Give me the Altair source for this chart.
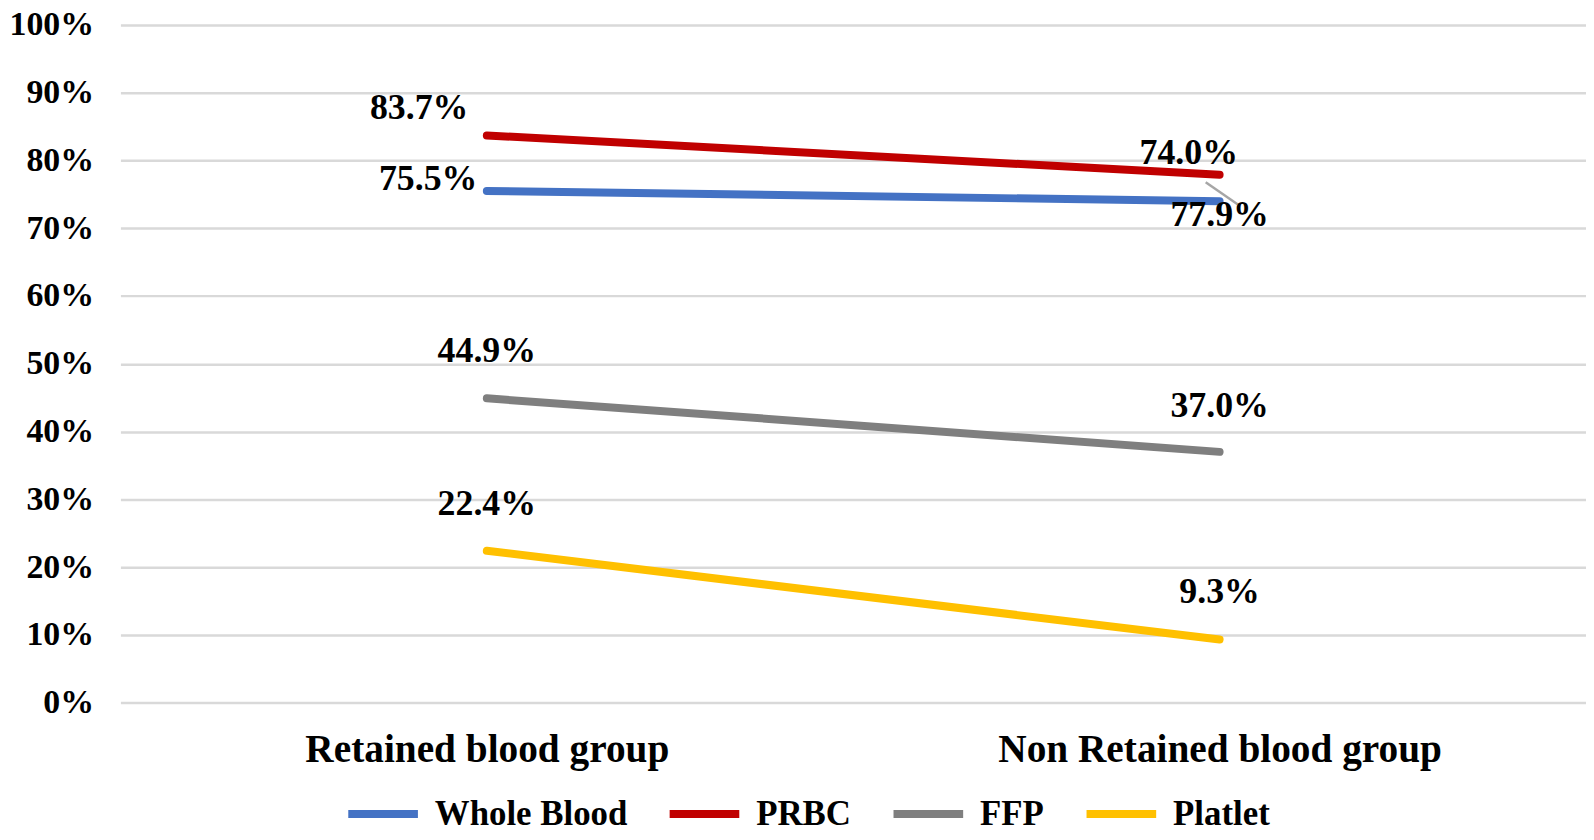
import altair as alt
import pandas as pd

categories = ["Retained blood group", "Non Retained blood group"]
series = ["Whole Blood", "PRBC", "FFP", "Platlet"]
whole_blood = [75.5, 74.0]
prbc = [83.7, 77.9]
ffp = [44.9, 37.0]
platlet = [22.4, 9.3]
colors = ["#4472C4", "#C00000", "#7F7F7F", "#FFC000"]

values = {"Whole Blood": whole_blood, "PRBC": prbc, "FFP": ffp, "Platlet": platlet}
rows = []
for si, s in enumerate(series):
    for ci, c in enumerate(categories):
        rows.append({"series": s, "category": c, "value": values[s][ci], "order": si})
df = pd.DataFrame(rows)

# label placement offsets (pixels) per (series, category index) -- styling only
label_offsets = {
    ("Whole Blood", 0): (-59, -12), ("Whole Blood", 1): (-31, -48),
    ("PRBC", 0): (-68, -28), ("PRBC", 1): (0, 41),
    ("FFP", 0): (0, -48), ("FFP", 1): (0, -46),
    ("Platlet", 0): (0, -47), ("Platlet", 1): (0, -48),
}

FONT = "Liberation Serif"

x = alt.X("category:N", sort=categories, title=None,
          scale=alt.Scale(type="point", padding=0.5),
          axis=alt.Axis(labelFontSize=39.5, labelFont=FONT, labelFontWeight="bold",
                        labelColor="black", labelPadding=28, labelAngle=0,
                        labelLimit=800, domain=False, ticks=False, grid=False))
y = alt.Y("value:Q", title=None,
          scale=alt.Scale(domain=[0, 100], nice=False),
          axis=alt.Axis(values=list(range(0, 101, 10)), labelExpr="datum.value + '%'",
                        labelFontSize=34, labelFont=FONT, labelFontWeight="bold",
                        labelColor="black", labelPadding=27, domain=False, ticks=False,
                        grid=True, gridColor="#d9d9d9", gridWidth=2.5))

color = alt.Color("series:N", sort=series,
                  scale=alt.Scale(domain=series, range=colors),
                  legend=alt.Legend(title=None, orient="none", direction="horizontal",
                                    legendX=225, legendY=754,
                                    symbolType="stroke", symbolSize=4900,
                                    symbolStrokeWidth=8, labelFontSize=35,
                                    labelFont=FONT, labelFontWeight="bold",
                                    labelColor="black", labelOffset=13,
                                    columnPadding=26, labelLimit=400))

lines = alt.Chart(df).mark_line(strokeWidth=8, strokeCap="round").encode(
    x=x, y=y, color=color, order=alt.Order("order:Q"), detail="series:N"
)

leader = alt.Chart(df).transform_filter(
    (alt.datum.series == "Whole Blood") & (alt.datum.category == categories[1])
).mark_rule(color="#A6A6A6", strokeWidth=2.5, xOffset=18, yOffset=3,
            x2Offset=-14, y2Offset=-19).encode(
    x=alt.X("category:N", sort=categories), x2="category:N",
    y="value:Q", y2="value:Q"
)

layers = [lines, leader]
for (s, ci), (dx, dy) in label_offsets.items():
    t = alt.Chart(df).transform_filter(
        (alt.datum.series == s) & (alt.datum.category == categories[ci])
    ).transform_calculate(
        label="format(datum.value, '.1f') + '%'"
    ).mark_text(font=FONT, fontWeight="bold", fontSize=36, color="black",
                dx=dx, dy=dy, baseline="middle", align="center").encode(
        x=alt.X("category:N", sort=categories), y="value:Q", text="label:N"
    )
    layers.append(t)

chart = alt.layer(*layers).properties(
    width=1473, height=681,
    background="white",
    autosize=alt.AutoSizeParams(type="none"),
    padding={"left": 113, "top": 15, "right": 0, "bottom": 128},
).configure_view(stroke=None)

chart.save("out.html", embed_options={"renderer": "svg", "actions": False})
